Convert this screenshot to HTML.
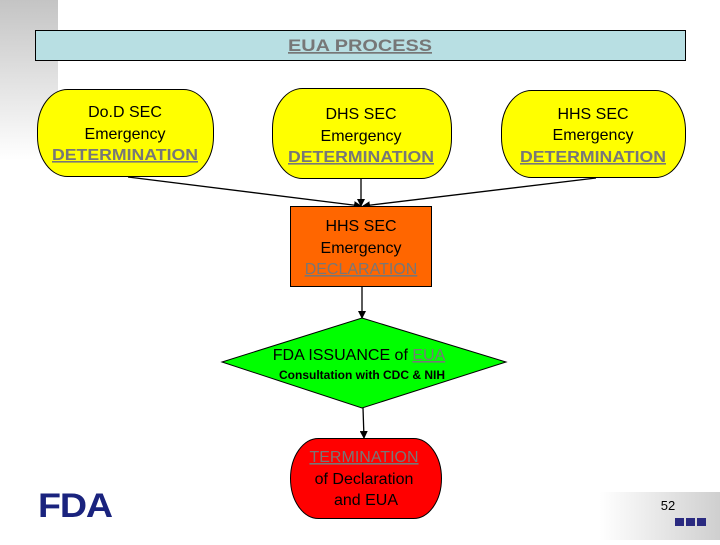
<!DOCTYPE html>
<html><head><style>
body{margin:0;width:720px;height:540px;overflow:hidden;background:#fff;font-family:"Liberation Sans",sans-serif}
</style></head><body>
<svg width="720" height="540" viewBox="0 0 720 540" xmlns="http://www.w3.org/2000/svg" font-family="Liberation Sans, sans-serif">
<defs>
<linearGradient id="g1" x1="0" y1="0" x2="0" y2="1"><stop offset="0" stop-color="#c4c4c4"/><stop offset="1" stop-color="#fff"/></linearGradient>
<linearGradient id="g2" x1="0" y1="0" x2="1" y2="0"><stop offset="0" stop-color="#fff"/><stop offset="1" stop-color="#cfcfcf"/></linearGradient>
<marker id="a" markerWidth="8" markerHeight="8" refX="7" refY="4" orient="auto" markerUnits="userSpaceOnUse"><path d="M0,0 L8,4 L0,8 z" fill="#000"/></marker>
</defs>
<rect x="0" y="0" width="58" height="160" fill="url(#g1)"/>
<rect x="600" y="492" width="120" height="48" fill="url(#g2)"/>
<rect x="35.5" y="30.5" width="650" height="30" fill="#b8dfe3" stroke="#000"/>
<text x="360" y="51" text-anchor="middle" font-size="17" font-weight="bold" fill="#777" text-decoration="underline" textLength="144" lengthAdjust="spacingAndGlyphs">EUA PROCESS</text>
<g stroke="#000" fill="#ffff00">
<rect x="37.5" y="89.5" width="176" height="87" rx="30" ry="40"/>
<rect x="272.5" y="88.5" width="179" height="90" rx="30" ry="40"/>
<rect x="501.5" y="90.5" width="184" height="87" rx="30" ry="40"/>
</g>
<g font-size="16" text-anchor="middle">
<text x="125" y="117">Do.D SEC</text><text x="125" y="139">Emergency</text>
<text x="125" y="160" fill="#777" font-weight="bold" text-decoration="underline" textLength="146" lengthAdjust="spacingAndGlyphs">DETERMINATION</text>
<text x="361" y="119">DHS SEC</text><text x="361" y="141">Emergency</text>
<text x="361" y="162" fill="#777" font-weight="bold" text-decoration="underline" textLength="146" lengthAdjust="spacingAndGlyphs">DETERMINATION</text>
<text x="593" y="119">HHS SEC</text><text x="593" y="140">Emergency</text>
<text x="593" y="162" fill="#777" font-weight="bold" text-decoration="underline" textLength="146" lengthAdjust="spacingAndGlyphs">DETERMINATION</text>
</g>
<g stroke="#000" stroke-width="1.3" marker-end="url(#a)">
<line x1="128" y1="177" x2="361" y2="206"/>
<line x1="361" y1="179" x2="361" y2="206"/>
<line x1="596" y1="178" x2="363" y2="206"/>
<line x1="362" y1="287" x2="362" y2="318"/>
<line x1="363" y1="408" x2="364" y2="438"/>
</g>
<rect x="290.5" y="206.5" width="141" height="80" fill="#ff6600" stroke="#000"/>
<g font-size="16" text-anchor="middle">
<text x="361" y="231">HHS SEC</text><text x="361" y="253">Emergency</text>
<text x="361" y="274" fill="#777" text-decoration="underline">DECLARATION</text>
</g>
<polygon points="362,318 506,362 362,408 222,362" fill="#00ff00" stroke="#000"/>
<text x="359" y="360" text-anchor="middle" font-size="16">FDA ISSUANCE of <tspan fill="#777" text-decoration="underline">EUA</tspan></text>
<text x="362" y="379" text-anchor="middle" font-size="12" font-weight="bold">Consultation with CDC &amp; NIH</text>
<rect x="290.5" y="438.5" width="151" height="80" rx="28" ry="40" fill="#ff0000" stroke="#000"/>
<g font-size="16" text-anchor="middle">
<text x="364" y="462" fill="#777" text-decoration="underline">TERMINATION</text>
<text x="364" y="484">of Declaration</text>
<text x="366" y="505">and EUA</text>
</g>
<text x="38" y="517" font-size="34" font-weight="bold" fill="#1a237e" letter-spacing="-1" textLength="74" lengthAdjust="spacingAndGlyphs">FDA</text>
<text x="668" y="510" text-anchor="middle" font-size="13">52</text>
<g fill="#2a2a80"><rect x="675" y="518" width="9" height="8"/><rect x="686" y="518" width="9" height="8"/><rect x="697" y="518" width="9" height="8"/></g>
</svg>
</body></html>
